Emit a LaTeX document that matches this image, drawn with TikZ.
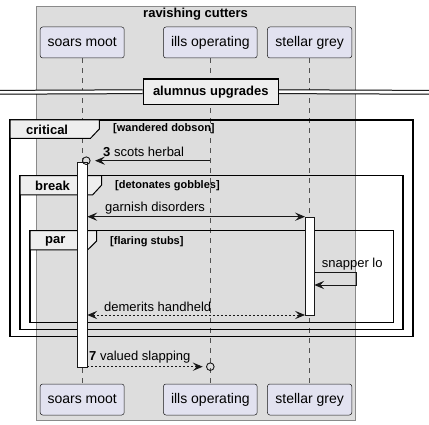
\documentclass[tikz,border=0pt]{standalone}
\usepackage{fontspec}
\setmainfont{Liberation Sans}
\usetikzlibrary{arrows.meta}
\definecolor{boxgray}{HTML}{DDDDDD}
\definecolor{boxline}{HTML}{8A8A8A}
\definecolor{partfill}{HTML}{E2E2F0}
\definecolor{partline}{HTML}{181818}
\definecolor{tabfill}{HTML}{EEEEEE}
\begin{document}
\begin{tikzpicture}[x=1pt,y=-1pt,
  part/.style={draw=partline, fill=partfill, line width=0.5pt, rounded corners=2.5pt,
    minimum height=31pt, inner sep=0pt, font=\fontsize{14}{16}\selectfont},
  life/.style={draw=partline!75, line width=0.5pt, dash pattern=on 5pt off 5pt},
  msg/.style={draw=partline, line width=0.8pt, -{Stealth[length=10pt,width=8.3pt,inset=4pt]}},
  bimsg/.style={draw=partline, line width=0.8pt, {Stealth[length=10pt,width=8.3pt,inset=4pt]}-{Stealth[length=10pt,width=8.3pt,inset=4pt]}},
  dsh/.style={dash pattern=on 2pt off 2pt},
  mtxt/.style={anchor=west, inner sep=0pt, font=\fontsize{13}{15}\selectfont},
  actbar/.style={draw=partline, fill=white, line width=0.8pt, inner sep=0pt, anchor=north, minimum width=10pt},
  circ/.style={draw=partline, line width=0.9pt, circle, minimum size=7.6pt, inner sep=0pt},
  frm/.style={draw=black, line width=1.5pt},
  tabshape/.style={draw=black, line width=1pt, fill=tabfill},
  tablbl/.style={anchor=west, inner sep=0pt, font=\bfseries\fontsize{13}{15}\selectfont},
  cond/.style={anchor=west, inner sep=0pt, font=\bfseries\fontsize{11}{13}\selectfont}
]
\useasboundingbox (0,0) rectangle (429,425);
\fill[white] (0,0) rectangle (429,425);
% group box
\draw[fill=boxgray, draw=boxline, line width=0.6pt] (36,6) rectangle (355.3,420.7);
\node[inner sep=0pt, font=\bfseries\fontsize{13}{15}\selectfont] (title) at (195.6,14) {ravishing cutters};
% participants
\node[part, minimum width=84pt] (sT) at (82.2,42.5) {soars moot};
\node[part, minimum width=93.7pt] (iT) at (210.3,42.5) {ills operating};
\node[part, minimum width=84.4pt] (gT) at (309.6,42.5) {stellar grey};
\node[part, minimum width=84pt] (sB) at (82.2,399.5) {soars moot};
\node[part, minimum width=93.7pt] (iB) at (210.3,399.5) {ills operating};
\node[part, minimum width=84.4pt] (gB) at (309.6,399.5) {stellar grey};
\draw[life] (sT) -- (sB);
\draw[life] (iT) -- (iB);
\draw[life] (gT) -- (gB);
% divider
\node[draw=black, line width=1.5pt, fill=tabfill, minimum width=135pt, minimum height=25.3pt,
  inner sep=0pt, font=\bfseries\fontsize{13}{15}\selectfont] (div) at (210.8,91.7) {alumnus upgrades};
\coordinate (dL) at (0,92.3);
\coordinate (dR) at (429,92.3);
\draw[double=white, double distance=2.8pt, line width=1pt] (dL) -- (div.west);
\draw[double=white, double distance=2.8pt, line width=1pt] (div.east) -- (dR);
% frames
\draw[frm] (10,120) rectangle (413,336.7);
\draw[frm] (20,175.7) rectangle (403,329.5);
\draw[frm] (30,230.7) rectangle (393.3,322.5);
\draw[tabshape] (10,120) -- (99.3,120) -- (99.3,129) -- (90.5,138.3) -- (10,138.3) -- cycle;
\draw[tabshape] (20,175.7) -- (101.7,175.7) -- (101.7,185) -- (92.5,195) -- (20,195) -- cycle;
\draw[tabshape] (30,230.7) -- (96.7,230.7) -- (96.7,241) -- (87.5,250) -- (30,250) -- cycle;
\node[tablbl] (lcrit) at (26,129.5) {critical};
\node[tablbl] (lbrk) at (35,185.5) {break};
\node[tablbl] (lpar) at (45,241) {par};
\node[cond] (ccrit) at (113,129) {[wandered dobson]};
\node[cond] (cbrk) at (115,186) {[detonates gobbles]};
\node[cond] (cpar) at (110,241.5) {[flaring stubs]};
% activation bars
\node[actbar, minimum height=205pt] (aS) at (82.3,161.7) {};
\node[actbar, minimum height=98.3pt, minimum width=9.3pt] (aG) at (309.7,216.7) {};
% message 3
\coordinate (m3a) at (210.3,160.7);
\node[circ] (c3) at (86.3,160.7) {};
\draw[msg, shorten >=4.5pt] (m3a) -- (c3);
\node[mtxt] (t3) at (103,151.7) {\textbf{3} scots herbal};
% garnish disorders
\coordinate (m4a) at (87.3,216.7);
\coordinate (m4b) at (305,216.7);
\draw[bimsg] (m4a) -- (m4b);
\node[mtxt] (t4) at (105,208.3) {garnish disorders};
% snapper lo
\coordinate (s1) at (314.3,272.7);
\coordinate (s2) at (356,272.7);
\coordinate (s3) at (356,285);
\coordinate (s4) at (314.3,285);
\draw[msg] (s1) -- (s2) -- (s3) -- (s4);
\node[mtxt] (t5) at (321.7,264) {snapper lo};
% demerits handheld
\coordinate (m6a) at (87.3,315);
\coordinate (m6b) at (305,315);
\draw[bimsg, dsh] (m6a) -- (m6b);
\node[mtxt] (t6) at (104,307.3) {demerits handheld};
% message 7
\coordinate (m7a) at (87.3,366.7);
\node[circ] (c7) at (210.3,366.7) {};
\draw[msg, dsh, shorten >=3.3pt] (m7a) -- (c7);
\node[mtxt] (t7) at (89,357.3) {\textbf{7} valued slapping};
\end{tikzpicture}
\end{document}
